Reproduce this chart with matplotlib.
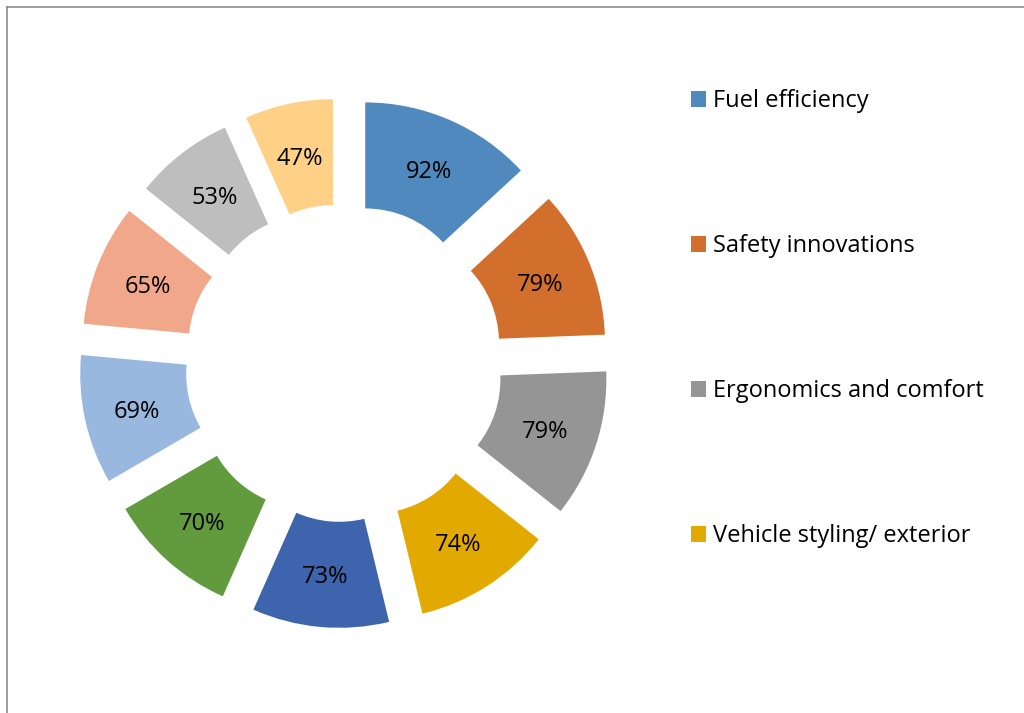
import numpy as np
import matplotlib
matplotlib.use("Agg")
import matplotlib.pyplot as plt
from matplotlib.patches import Patch
from matplotlib.lines import Line2D

# data (clockwise from 12 o'clock)
values = [92, 79, 79, 74, 73, 70, 69, 65, 53, 47]
colors = ["#4F89BD", "#D36F2C", "#959595", "#E2AA00", "#3D64AD",
          "#629A3E", "#98B8E0", "#F1A88A", "#BEBEBE", "#FED186"]
# only the first four categories are named in the legend
legend_names = ["Fuel efficiency", "Safety innovations",
                "Ergonomics and comfort", "Vehicle styling/ exterior"]

plt.rcParams['font.family'] = ['Open Sans', 'DejaVu Sans']

W, H = 1024, 713
fig = plt.figure(figsize=(W / 100, H / 100), dpi=100)

# pie axes: center at (344, 363) px, outer radius 212 px
cx, cy, r_px, half = 344, 363, 212, 300
ax = fig.add_axes([(cx - half) / W, (H - cy - half) / H, 2 * half / W, 2 * half / H])

labels = [f"{v}%" for v in values]
wedges, texts = ax.pie(values, colors=colors, startangle=90, counterclock=False,
                       explode=[0.25] * len(values), labels=labels, labeldistance=0.75,
                       wedgeprops=dict(width=0.5, linewidth=0))
for t in texts:
    t.set_ha('center')
    t.set_va('center_baseline')
    t.set_fontsize(17)
    t.set_color('black')

lim = half / r_px
ax.set_xlim(-lim, lim)
ax.set_ylim(-lim, lim)
ax.set_aspect('equal')
ax.axis('off')

handles = [Patch(facecolor=c, edgecolor='none') for c in colors[:4]]
fig.legend(handles, legend_names, loc='upper left', bbox_to_anchor=(691 / W, 1 - 89 / H),
           frameon=False, fontsize=17, handlelength=0.65, handleheight=0.65,
           handletextpad=0.3, labelspacing=5.13, borderpad=0, borderaxespad=0)

# chart area border (top and left edges visible)
fig.add_artist(Line2D([7 / W, 1], [1 - 7 / H, 1 - 7 / H], color='#8C8C8C', lw=1.2))
fig.add_artist(Line2D([7 / W, 7 / W], [0, 1 - 7 / H], color='#8C8C8C', lw=1.2))

fig.savefig("out.png", dpi=100)
